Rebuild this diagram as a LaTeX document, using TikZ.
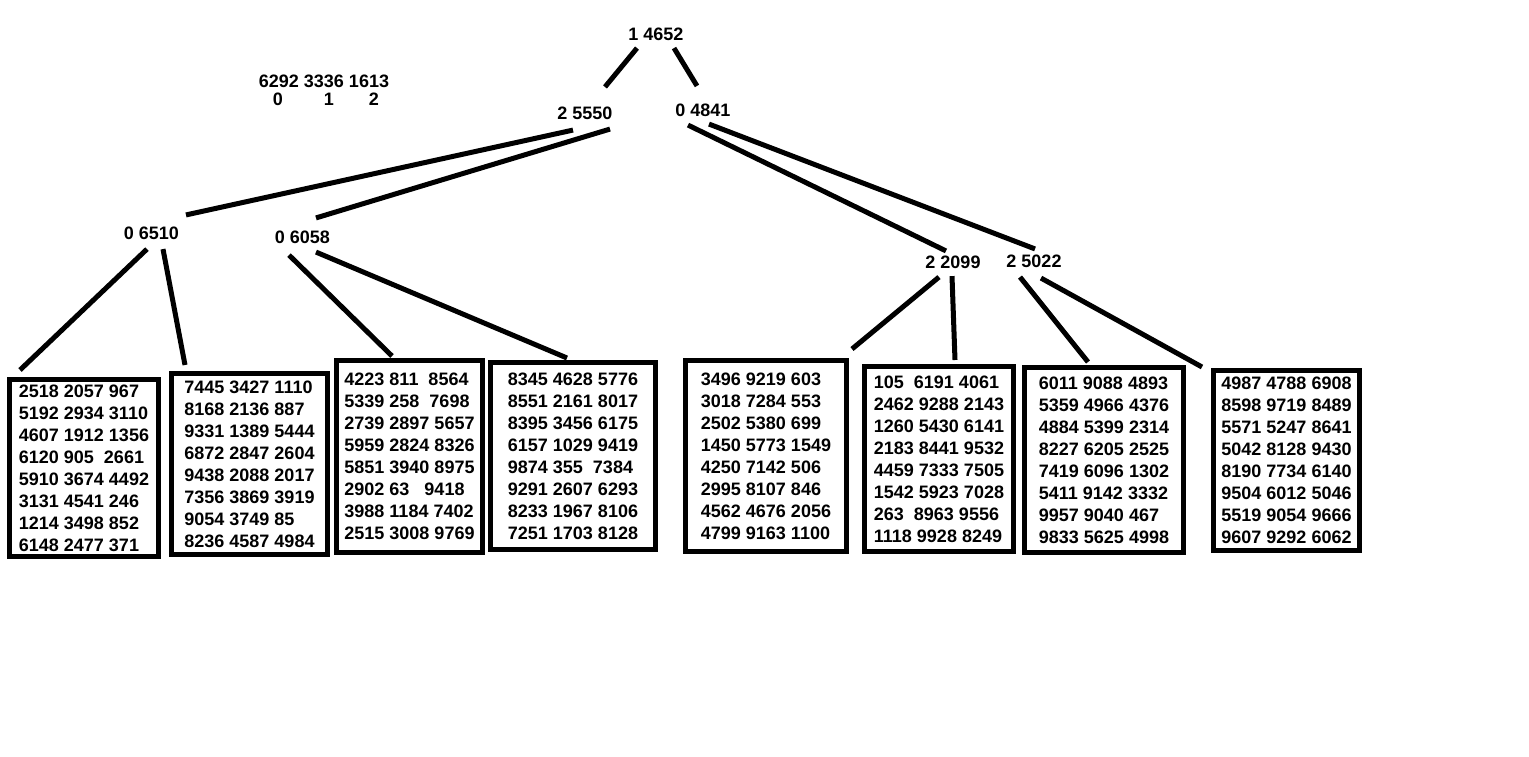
\documentclass[tikz,border=0pt]{standalone}
\usepackage{fontspec}
\setmainfont{Liberation Sans}
\usepackage{tikz}
\definecolor{ink}{RGB}{0,0,0}

\begin{document}
\begin{tikzpicture}[x=1pt,y=-1pt,
  num/.style={font=\bfseries\fontsize{18}{22}\selectfont,inner sep=0pt,text=ink},
  leaf/.style={num,draw=ink,line width=5pt,outer sep=0pt,align=left},
  link/.style={ink,line width=5pt}]
\path[fill=white,use as bounding box] (0,0) rectangle (1529,756);

\node[num] (root) at (656,34) {1 4652};
\node[num] (keys) at (324,81.5) {6292 3336 1613};
\node[num] (idx0) at (278,99.5) {0};
\node[num] (idx1) at (329,99.5) {1};
\node[num] (idx2) at (374,99.5) {2};
\node[num] (n5550) at (585,113) {2 5550};
\node[num] (n4841) at (703,110) {0 4841};
\node[num] (n6510) at (151.5,233.5) {0 6510};
\node[num] (n6058) at (302.5,237.5) {0 6058};
\node[num] (n2099) at (953,262.5) {2 2099};
\node[num] (n5022) at (1034,261.5) {2 5022};

\node[leaf,minimum width=149,minimum height=177] (leaf1) at (84,468)
  {2518 2057 967\\5192 2934 3110\\4607 1912 1356\\6120 905\ \ 2661\\5910 3674 4492\\3131 4541 246\\1214 3498 852\\6148 2477 371};
\node[leaf,minimum width=156,minimum height=181] (leaf2) at (249.5,464)
  {7445 3427 1110\\8168 2136 887\\9331 1389 5444\\6872 2847 2604\\9438 2088 2017\\7356 3869 3919\\9054 3749 85\\8236 4587 4984};
\node[leaf,minimum width=146,minimum height=192] (leaf3) at (409.5,456.5)
  {4223 811\ \ 8564\\5339 258\ \ 7698\\2739 2897 5657\\5959 2824 8326\\5851 3940 8975\\2902 63\ \ \ 9418\\3988 1184 7402\\2515 3008 9769};
\node[leaf,minimum width=165,minimum height=187] (leaf4) at (573,456)
  {8345 4628 5776\\8551 2161 8017\\8395 3456 6175\\6157 1029 9419\\9874 355\ \ 7384\\9291 2607 6293\\8233 1967 8106\\7251 1703 8128};
\node[leaf,minimum width=161,minimum height=191] (leaf5) at (766,456)
  {3496 9219 603\\3018 7284 553\\2502 5380 699\\1450 5773 1549\\4250 7142 506\\2995 8107 846\\4562 4676 2056\\4799 9163 1100};
\node[leaf,minimum width=149,minimum height=185] (leaf6) at (939,459)
  {105\ \ 6191 4061\\2462 9288 2143\\1260 5430 6141\\2183 8441 9532\\4459 7333 7505\\1542 5923 7028\\263\ \ 8963 9556\\1118 9928 8249};
\node[leaf,minimum width=159,minimum height=185] (leaf7) at (1104,460)
  {6011 9088 4893\\5359 4966 4376\\4884 5399 2314\\8227 6205 2525\\7419 6096 1302\\5411 9142 3332\\9957 9040 467\\9833 5625 4998};
\node[leaf,minimum width=146,minimum height=180] (leaf8) at (1286.5,460.5)
  {4987 4788 6908\\8598 9719 8489\\5571 5247 8641\\5042 8128 9430\\8190 7734 6140\\9504 6012 5046\\5519 9054 9666\\9607 9292 6062};

\draw[link] ([shift={(-19,7.5)}]root.south) -- ([shift={(20,-19.5)}]n5550.north);
\draw[link] ([shift={(18,7.5)}]root.south) -- ([shift={(-6,-17.5)}]n4841.north);
\draw[link] ([shift={(-12,10.5)}]n5550.south) -- ([shift={(34.5,-12)}]n6510.north);
\draw[link] ([shift={(25,9.5)}]n5550.south) -- ([shift={(13.5,-13)}]n6058.north);
\draw[link] ([shift={(-15,8.5)}]n4841.south) -- ([shift={(-7,-5)}]n2099.north);
\draw[link] ([shift={(6,7.5)}]n4841.south) -- ([shift={(1,-6)}]n5022.north);
\draw[link] ([shift={(-4.5,9)}]n6510.south) -- ([shift={(-64,-9.5)}]leaf1.north);
\draw[link] ([shift={(11.5,9)}]n6510.south) -- ([shift={(-64.5,-8.5)}]leaf2.north);
\draw[link] ([shift={(-13.5,11)}]n6058.south) -- ([shift={(-17.5,-4.5)}]leaf3.north);
\draw[link] ([shift={(13.5,8)}]n6058.south) -- ([shift={(-6,-4.5)}]leaf4.north);
\draw[link] ([shift={(-14,8)}]n2099.south) -- ([shift={(86,-11.5)}]leaf5.north);
\draw[link] ([shift={(-1,7)}]n2099.south) -- ([shift={(16,-6.5)}]leaf6.north);
\draw[link] ([shift={(-14,9)}]n5022.south) -- ([shift={(-16,-5.5)}]leaf7.north);
\draw[link] ([shift={(7,10)}]n5022.south) -- ([shift={(-84.5,-3.5)}]leaf8.north);
\end{tikzpicture}
\end{document}
